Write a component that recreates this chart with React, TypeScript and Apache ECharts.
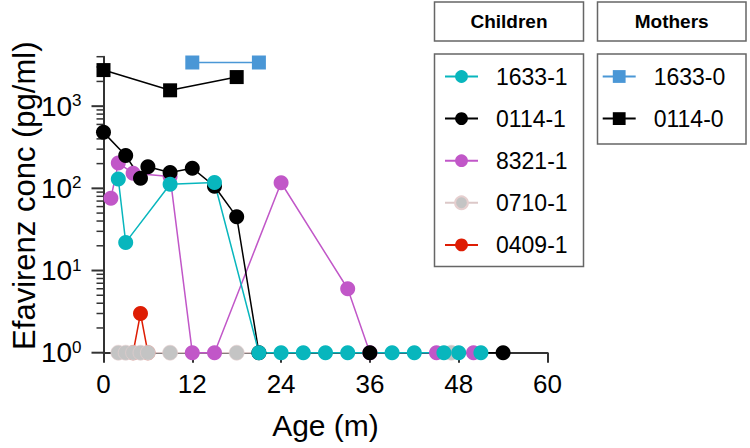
import React, { useEffect, useRef } from "react";
import * as echarts from "echarts";

// ---- data ----
const xTicks = [0, 12, 24, 36, 48, 60];
const yMinorTickValues = [
  1, 2, 3, 4, 5, 6, 7, 8, 9,
  10, 20, 30, 40, 50, 60, 70, 80, 90,
  100, 200, 300, 400, 500, 600, 700, 800, 900,
  1000, 2000, 3000, 4000,
];

const childNames = ["1633-1", "0114-1", "8321-1", "0710-1", "0409-1"];
const motherNames = ["1633-0", "0114-0"];

const c1633x = [2, 3, 9, 15, 21, 24, 27, 30, 33, 39, 42, 46, 48, 51];
const c1633y = [130, 22, 112, 118, 1, 1, 1, 1, 1, 1, 1, 1, 1, 1];

const c0114x = [0, 3, 5, 6, 9, 12, 15, 18, 21, 36, 54];
const c0114y = [480, 251, 133, 183, 156, 176, 106, 45, 1, 1, 1];

const c8321x = [1, 2, 4, 9, 12, 15, 24, 33, 36, 45, 50];
const c8321y = [76, 203, 153, 139, 1, 1, 117, 6, 1, 1, 1];

const c0710x = [2, 3, 4, 5, 6, 9, 18, 47];
const c0710y = [1, 1, 1, 1, 1, 1, 1, 1];

const c0409x = [4, 5, 6];
const c0409y = [1, 3, 1];

const m1633x = [12, 21];
const m1633y = [3400, 3400];

const m0114x = [0, 9, 18];
const m0114y = [2750, 1560, 2260];

const FONT = "'Liberation Sans', Arial, sans-serif";
const AXIS = "#333";

const zip = (xs: number[], ys: number[]) => xs.map((x, i) => [x, ys[i]]);

function lineSeries(
  name: string,
  xs: number[],
  ys: number[],
  color: string,
  lineColor: string,
  symbol: string,
  size: number,
  border?: string
) {
  return {
    name,
    type: "line",
    data: zip(xs, ys),
    symbol,
    symbolSize: size,
    showSymbol: true,
    clip: false,
    lineStyle: { color: lineColor, width: 1.5 },
    itemStyle: {
      color,
      borderColor: border || color,
      borderWidth: border ? 0.6 : 0,
      opacity: 1,
    },
    emphasis: { disabled: true },
  };
}

const isPow10 = (v: number) => Math.abs(Math.log10(v) - Math.round(Math.log10(v))) < 1e-9;

export default function App() {
  const ref = useRef<HTMLDivElement>(null);
  useEffect(() => {
    document.body.style.margin = "0";
    const chart = echarts.init(ref.current!, null, { renderer: "svg" });
    const legendCommon = {
      orient: "vertical",
      top: 65,
      itemWidth: 33,
      itemHeight: 16,
      itemGap: 19.1,
      padding: 0,
      selectedMode: false,
      textStyle: {
        fontSize: 23,
        fontFamily: FONT,
        color: "#000",
        padding: [0, 0, 0, 13],
        lineHeight: 16,
      },
    };
    const boxStyle = { fill: "#fff", stroke: "#666", lineWidth: 1.5 };
    const headStyle = {
      fontSize: 19,
      fontWeight: "bold",
      fontFamily: FONT,
      fill: "#000",
      align: "center",
      verticalAlign: "middle",
    };
    chart.setOption({
      animation: false,
      backgroundColor: "#fff",
      grid: {
        left: 103.5,
        right: 202.5,
        top: 56.7,
        bottom: 95.3,
        outerBoundsMode: "none",
      },
      xAxis: {
        type: "value",
        min: 0,
        max: 60,
        interval: 12,
        name: "Age (m)",
        nameLocation: "middle",
        nameGap: 58,
        nameMoveOverlap: false,
        nameTextStyle: { fontSize: 30, fontFamily: FONT, color: "#000" },
        axisLine: { show: true, lineStyle: { color: AXIS, width: 2 } },
        axisTick: { show: true, inside: false, length: 10, lineStyle: { color: AXIS, width: 2 } },
        axisLabel: { fontSize: 26, fontFamily: FONT, color: "#000", margin: 18 },
        splitLine: { show: false },
      },
      yAxis: {
        type: "log",
        logBase: 10,
        min: 1,
        max: 4000,
        name: "Efavirenz conc (pg/ml)",
        nameLocation: "middle",
        nameRotate: 90,
        nameGap: 64,
        nameMoveOverlap: false,
        nameTextStyle: {
          fontSize: 31,
          fontFamily: FONT,
          color: "#000",
          padding: [0, 0, 0, 18],
        },
        axisLine: { show: true, onZero: false, lineStyle: { color: AXIS, width: 2 } },
        axisTick: { show: false },
        axisLabel: {
          margin: 22,
          fontFamily: FONT,
          formatter: (v: number) =>
            isPow10(v) ? `{b|10}{s|${Math.round(Math.log10(v))}}` : "",
          rich: {
            b: { fontSize: 28, lineHeight: 28, fontFamily: FONT, color: "#000" },
            s: { fontSize: 17, lineHeight: 17, fontFamily: FONT, color: "#000", verticalAlign: "top" },
          },
        },
        splitLine: { show: false },
      },
      legend: [
        { ...legendCommon, left: 444, data: childNames },
        { ...legendCommon, left: 601.7, data: motherNames },
      ],
      graphic: [
        { type: "rect", z: -1, shape: { x: 434.5, y: 2, width: 149, height: 39 }, style: boxStyle },
        { type: "rect", z: -1, shape: { x: 597.5, y: 2, width: 148.5, height: 39 }, style: boxStyle },
        { type: "rect", z: -1, shape: { x: 434.5, y: 54, width: 149, height: 212.5 }, style: boxStyle },
        { type: "rect", z: -1, shape: { x: 597.5, y: 54, width: 148.5, height: 90 }, style: boxStyle },
        { type: "text", z: 1, x: 509, y: 21.5, style: { ...headStyle, text: "Children" } },
        { type: "text", z: 1, x: 671.7, y: 21.5, style: { ...headStyle, text: "Mothers" } },
      ],
      series: [
        {
          type: "custom",
          name: "yticks",
          silent: true,
          clip: false,
          z: 1,
          data: yMinorTickValues.map((v) => [0, v]),
          encode: { x: 0, y: 1 },
          renderItem: (params: any, api: any) => {
            const v = api.value(1);
            const p = api.coord([0, v]);
            const major = isPow10(v);
            return {
              type: "line",
              shape: { x1: p[0] - (major ? 12 : 7), y1: p[1], x2: p[0], y2: p[1] },
              style: { stroke: AXIS, lineWidth: major ? 2 : 1.5 },
            };
          },
        },
        lineSeries("0409-1", c0409x, c0409y, "#de1d04", "#de1d04", "circle", 15),
        lineSeries("0710-1", c0710x, c0710y, "#c4c4c4", "#dcc8c8", "circle", 15, "#e6cfcf"),
        lineSeries("8321-1", c8321x, c8321y, "#c157c8", "#c157c8", "circle", 15),
        lineSeries("0114-1", c0114x, c0114y, "#000000", "#000000", "circle", 15),
        lineSeries("1633-1", c1633x, c1633y, "#08b6bd", "#08b6bd", "circle", 15),
        lineSeries("1633-0", m1633x, m1633y, "#4a97d6", "#4a97d6", "rect", 14),
        lineSeries("0114-0", m0114x, m0114y, "#000000", "#000000", "rect", 14),
      ],
    });
    return () => chart.dispose();
  }, []);
  return <div ref={ref} style={{ width: 750, height: 448 }} />;
}
